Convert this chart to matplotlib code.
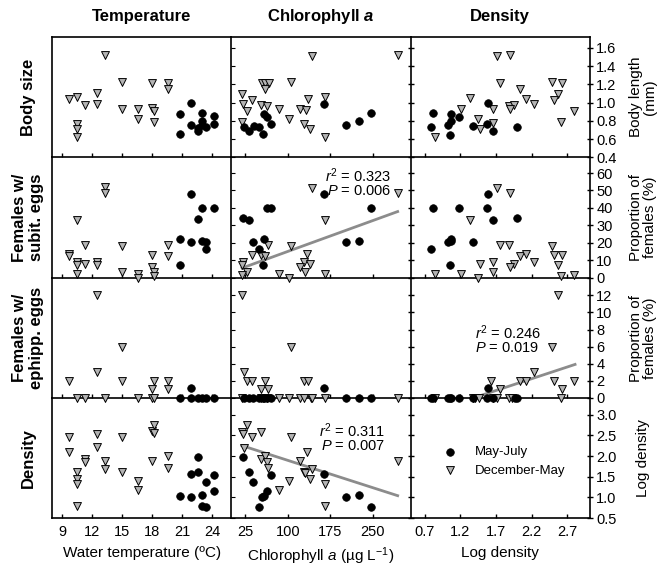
import matplotlib
matplotlib.use('Agg')
import matplotlib.pyplot as plt
import numpy as np

plt.rcParams['font.family'] = ['Liberation Sans', 'DejaVu Sans']
plt.rcParams['mathtext.fontset'] = 'custom'
plt.rcParams['mathtext.rm'] = 'Liberation Sans'
plt.rcParams['mathtext.it'] = 'Liberation Sans:italic'
plt.rcParams['mathtext.bf'] = 'Liberation Sans:bold'
plt.rcParams['mathtext.bfit'] = 'Liberation Sans:italic:bold'

# ---- data: (x, y) per panel, two seasons ----
# row 1 : body length (mm)
temp_body_may = [(20.8, 0.87), (20.8, 0.65), (21.9, 0.995), (21.9, 0.75), (22.6, 0.72), (22.6, 0.69),
                 (23.0, 0.89), (23.0, 0.80), (23.0, 0.75), (23.4, 0.73), (24.2, 0.85), (24.2, 0.76)]
temp_body_dec = [(9.7, 1.04), (10.5, 1.06), (10.5, 0.77), (10.5, 0.705), (10.5, 0.625), (11.3, 0.97),
                 (12.5, 1.10), (12.5, 0.99), (13.3, 1.52), (15.0, 1.23), (15.0, 0.925), (16.6, 0.935),
                 (16.6, 0.82), (18.0, 1.22), (18.0, 0.94), (18.2, 0.91), (18.2, 0.79), (19.6, 1.22), (19.6, 1.145)]
chl_body_may = [(22, 0.73), (32, 0.69), (40, 0.74), (49, 0.73), (56, 0.65), (57, 0.87), (63, 0.84),
                (71, 0.76), (163, 0.99), (202, 0.75), (226, 0.80), (247, 0.89)]
chl_body_dec = [(19, 1.09), (21, 0.98), (28, 0.91), (37, 1.03), (52, 0.97), (63, 0.96), (55, 1.21), (60, 1.21),
                (66, 1.21), (59, 1.145), (85, 0.93), (106, 1.23), (143, 1.51), (294, 1.52), (135, 1.04),
                (165, 1.06), (122, 0.935), (132, 0.92), (102, 0.815), (128, 0.77), (139, 0.705), (165, 0.625), (18, 0.79)]
dens_body_may = [(0.81, 0.89), (0.79, 0.73), (1.03, 0.75), (1.06, 0.87), (1.07, 0.80), (1.05, 0.645),
                 (1.18, 0.84), (1.38, 0.74), (1.57, 0.76), (1.59, 0.995), (1.65, 0.69), (1.99, 0.73)]
dens_body_dec = [(0.84, 0.625), (1.21, 0.93), (1.34, 1.05), (1.44, 0.815), (1.48, 0.715), (1.65, 0.925),
                 (1.66, 0.78), (1.72, 1.51), (1.90, 1.52), (1.76, 1.21), (1.88, 0.96), (1.95, 0.97), (1.90, 0.935),
                 (2.03, 1.145), (2.12, 1.04), (2.24, 0.98), (2.49, 1.23), (2.63, 1.22), (2.57, 1.09), (2.51, 1.03),
                 (2.80, 0.907), (2.61, 0.785)]

# row 2 : females with subitaneous eggs (%)
temp_subit_may = [(21.9, 48), (23.0, 39.8), (24.2, 39.8), (22.6, 33.5), (20.8, 22.1), (21.9, 20.2),
                  (23.0, 21.1), (23.4, 20.2), (23.4, 16.6), (20.8, 7.2)]
temp_subit_dec = [(13.3, 51.8), (13.3, 48.8), (10.5, 32.8), (11.3, 18.9), (15.0, 17.9), (19.6, 18.9),
                  (19.6, 12.2), (18.0, 12.8), (9.7, 13.7), (9.7, 12.5), (10.5, 8.8), (10.5, 7.4), (11.3, 7.8),
                  (12.5, 9.0), (12.5, 6.9), (10.5, 2.1), (15.0, 3.0), (16.6, 2.1), (16.6, 0), (18.0, 6.1),
                  (18.2, 3.0), (18.2, 0.8)]
chl_subit_may = [(21, 34.1), (32, 33.1), (63, 40.2), (70, 40.2), (163, 48), (247, 40.2), (39, 20.2),
                 (49, 16.6), (57, 22.1), (56, 7.4), (202, 20.2), (226, 21.1)]
chl_subit_dec = [(143, 51.6), (294, 48.8), (165, 32.8), (65, 18.9), (106, 17.9), (37, 12.8), (53, 12.8),
                 (60, 12.2), (134, 13.7), (21, 8.8), (19, 7.4), (128, 8.8), (139, 7.8), (122, 6.1), (131, 3.0),
                 (28, 3.0), (19, 1.3), (85, 2.1), (102, 0), (165, 2.1)]
dens_subit_may = [(0.81, 40.2), (1.18, 40.2), (1.57, 40.2), (1.59, 48), (1.65, 33.1), (1.99, 34.1),
                  (0.79, 16.6), (1.03, 20.2), (1.06, 22.1), (1.07, 21), (1.05, 7.2), (1.38, 20.2)]
dens_subit_dec = [(1.72, 51.6), (1.90, 48.8), (1.34, 32.8), (1.76, 18.9), (1.88, 18.9), (2.03, 12.2),
                  (2.12, 13.7), (2.24, 8.8), (2.49, 17.9), (2.51, 12.8), (2.63, 12.8), (2.57, 6.9), (1.95, 7.8),
                  (1.90, 6.1), (1.48, 7.8), (1.65, 8.8), (1.66, 3.0), (0.84, 2.1), (1.21, 2.1), (1.44, 0),
                  (2.61, 0.8), (2.80, 1.7)]

# row 3 : females with ephippial eggs (%)
temp_eph_may = [(21.9, 1.1), (20.8, 0), (21.9, 0), (22.6, 0), (23.0, 0), (23.4, 0), (24.2, 0)]
temp_eph_dec = [(12.5, 12.1), (15.0, 6.0), (12.5, 3.0), (9.7, 2.0), (15.0, 2.0), (18.2, 2.0), (19.6, 2.0),
                (18.0, 1.0), (19.6, 1.0), (10.5, 0), (11.3, 0), (13.3, 0), (16.6, 0), (18.0, 0), (18.2, 0)]
chl_eph_may = [(163, 1.1), (22, 0), (32, 0), (39, 0), (49, 0), (56, 0), (57, 0), (63, 0), (71, 0),
               (202, 0), (226, 0), (247, 0)]
chl_eph_dec = [(19, 12.1), (106, 6.0), (22, 3.0), (28, 2.0), (37, 2.0), (60, 2.0), (129, 2.0), (135, 2.0),
               (53, 1.0), (65, 1.0), (19, 0), (52, 0), (63, 0), (85, 0), (102, 0), (122, 0), (128, 0),
               (140, 0), (143, 0), (165, 0), (294, 0)]
dens_eph_may = [(1.59, 1.1), (0.79, 0), (0.81, 0), (1.03, 0), (1.05, 0), (1.07, 0), (1.18, 0), (1.38, 0),
                (1.57, 0), (1.65, 0), (1.96, 0), (1.99, 0)]
dens_eph_dec = [(2.57, 12.1), (2.49, 6.0), (2.24, 3.0), (1.63, 2.0), (2.03, 2.0), (2.12, 2.0), (2.51, 2.0),
                (2.80, 2.0), (1.76, 1.0), (2.63, 1.0), (0.84, 0), (1.37, 0), (1.41, 0), (1.46, 0), (1.65, 0),
                (1.72, 0), (1.88, 0), (1.93, 0), (2.61, 0)]

# row 4 : log density
temp_dens_may = [(22.6, 1.97), (21.9, 1.57), (22.6, 1.62), (24.2, 1.54), (23.4, 1.37), (24.2, 1.16),
                 (20.8, 1.03), (21.9, 1.0), (23.0, 1.05), (23.0, 0.79), (23.4, 0.76)]
temp_dens_dec = [(9.7, 2.47), (9.7, 2.09), (10.5, 1.62), (10.5, 1.45), (10.5, 1.32), (10.5, 0.80),
                 (11.3, 1.92), (11.3, 1.85), (12.5, 2.53), (12.5, 2.21), (13.3, 1.87), (13.3, 1.68),
                 (15.0, 2.45), (15.0, 1.61), (16.6, 1.40), (16.6, 1.18), (18.0, 2.61), (18.2, 2.76),
                 (18.2, 2.56), (18.0, 1.87), (19.6, 2.0), (19.6, 1.72)]
chl_dens_may = [(21, 1.97), (32, 1.62), (39, 1.37), (71, 1.54), (57, 1.03), (63, 1.16), (55, 1.0),
                (49, 0.77), (163, 1.57), (202, 1.0), (226, 1.05), (247, 0.77)]
chl_dens_dec = [(28, 2.76), (19, 2.59), (21, 2.53), (37, 2.47), (53, 2.58), (106, 2.45), (22, 2.19),
                (52, 1.92), (60, 1.99), (63, 1.85), (65, 1.72), (134, 2.09), (122, 1.87), (128, 1.62),
                (131, 1.58), (143, 1.68), (139, 1.45), (102, 1.40), (85, 1.18), (165, 1.32), (165, 0.80), (294, 1.87)]

# regression lines: (x range, intercept, slope) and stats text
fit_chl_subit = ([19, 294], 3.2, 0.118)
fit_dens_eph = ([1.39, 2.81], -3.82, 2.75)
fit_chl_dens = ([19, 294], 2.334, -0.0044)
stats_chl_subit = ('0.323', '0.006')
stats_dens_eph = ('0.246', '0.019')
stats_chl_dens = ('0.311', '0.007')

row_titles = ['Body size', 'Females w/\nsubit. eggs', 'Females w/\nephipp. eggs', 'Density']
col_titles = ['Temperature', r'Chlorophyll $\mathbfit{a}$', 'Density']
right_labels = ['Body length\n(mm)', 'Proportion of\nfemales (%)', 'Proportion of\nfemales (%)', 'Log density']
x_labels = ['Water temperature (ºC)', r'Chlorophyll $a$ (µg L$^{-1}$)', 'Log density']
x_ticks = [[9, 12, 15, 18, 21, 24], [25, 100, 175, 250], [0.7, 1.2, 1.7, 2.2, 2.7]]
x_lims = [(8.0, 25.9), (0, 317), (0.5, 3.02)]
y_ticks = [np.arange(0.4, 1.61, 0.2), np.arange(0, 61, 10), np.arange(0, 13, 2), np.arange(0.5, 3.01, 0.5)]
y_fmt = ['{:.1f}', '{:.0f}', '{:.0f}', '{:.1f}']
y_lims = [(0.4, 1.72), (0, 69.1), (0, 14.1), (0.5, 3.41)]

panels = {
    (0, 0): (temp_body_may, temp_body_dec), (0, 1): (chl_body_may, chl_body_dec), (0, 2): (dens_body_may, dens_body_dec),
    (1, 0): (temp_subit_may, temp_subit_dec), (1, 1): (chl_subit_may, chl_subit_dec), (1, 2): (dens_subit_may, dens_subit_dec),
    (2, 0): (temp_eph_may, temp_eph_dec), (2, 1): (chl_eph_may, chl_eph_dec), (2, 2): (dens_eph_may, dens_eph_dec),
    (3, 0): (temp_dens_may, temp_dens_dec), (3, 1): (chl_dens_may, chl_dens_dec),
}

W, H = 658, 570
fig, axs = plt.subplots(4, 3, figsize=(W / 100, H / 100), dpi=100, gridspec_kw=dict(hspace=0, wspace=0))
fig.subplots_adjust(left=52 / W, right=590 / W, top=1 - 37 / H, bottom=1 - 518 / H)

tri_col = '#b4b4b4'
line_col = '#8c8c8c'
handles = None

for r in range(4):
    for c in range(3):
        ax = axs[r, c]
        ax.set_facecolor('none')
        ax.set_xlim(*x_lims[c])
        ax.set_ylim(*y_lims[r])
        ax.set_xticks(x_ticks[c])
        ax.set_yticks(y_ticks[r])
        ax.set_yticklabels([y_fmt[r].format(v) for v in y_ticks[r]])
        ax.spines['top'].set_visible(r == 0)
        ax.spines['right'].set_visible(c == 2)
        for s in ax.spines.values():
            s.set_linewidth(1.2)
        ax.tick_params(axis='x', direction='in', length=3, width=1, labelsize=10.5,
                       labelbottom=(r == 3), pad=5)
        if c == 0:
            ax.tick_params(axis='y', left=False, labelleft=False)
        elif c == 1:
            ax.tick_params(axis='y', left=True, right=False, direction='in', length=3, labelleft=False)
        else:
            ax.tick_params(axis='y', left=True, right=True, direction='inout', length=5, width=1,
                           labelleft=False, labelright=True, labelsize=10.5, pad=2)
        if (r, c) in panels:
            may, dec = panels[(r, c)]
            mx, my = zip(*may)
            dx, dy = zip(*dec)
            h2 = ax.scatter(dx, dy, marker='v', s=32, facecolor=tri_col, edgecolor='black',
                            linewidth=0.7, clip_on=False, zorder=4)
            h1 = ax.scatter(mx, my, marker='o', s=30, facecolor='black', edgecolor='black',
                            linewidth=0.5, clip_on=False, zorder=5)
            handles = (h1, h2)
        if r == 3:
            ax.set_xlabel(x_labels[c], fontsize=11, labelpad=5)

# regression lines and statistics
for (r, c), fit, st, pos, ha in [((1, 1), fit_chl_subit, stats_chl_subit, (0.89, 0.85), 'right'),
                                 ((2, 2), fit_dens_eph, stats_dens_eph, (0.36, 0.54), 'left'),
                                 ((3, 1), fit_chl_dens, stats_chl_dens, (0.86, 0.725), 'right')]:
    ax = axs[r, c]
    xs = np.array(fit[0])
    ax.plot(xs, fit[1] + fit[2] * xs, color=line_col, lw=2.0, zorder=3)
    ax.text(pos[0], pos[1], r'$r^2$ = ' + st[0], transform=ax.transAxes, ha=ha, va='center', fontsize=10.5)
    ax.text(pos[0], pos[1] - 0.13, r'$P$ = ' + st[1], transform=ax.transAxes, ha=ha, va='center', fontsize=10.5)

axs[3, 2].legend(handles, ['May-July', 'December-May'], loc='upper left', bbox_to_anchor=(0.18, 0.6),
                 frameon=False, fontsize=9.5, handlelength=1.0, handletextpad=1.4, labelspacing=0.5,
                 borderpad=0, borderaxespad=0)

row_centers = [97, 217.5, 338, 458]
for r in range(4):
    fig.text(28 / W, 1 - row_centers[r] / H, row_titles[r], rotation=90, ha='center', va='center',
             fontsize=12, fontweight='bold', linespacing=1.1)
    fig.text(643 / W, 1 - row_centers[r] / H, right_labels[r], rotation=90, ha='center', va='center',
             fontsize=11, linespacing=1.0)

col_centers = [141.5, 320.5, 500]
for c in range(3):
    fig.text(col_centers[c] / W, 1 - 17 / H, col_titles[c], ha='center', va='center',
             fontsize=12, fontweight='bold')

fig.savefig('out.png', dpi=100, facecolor='white')
